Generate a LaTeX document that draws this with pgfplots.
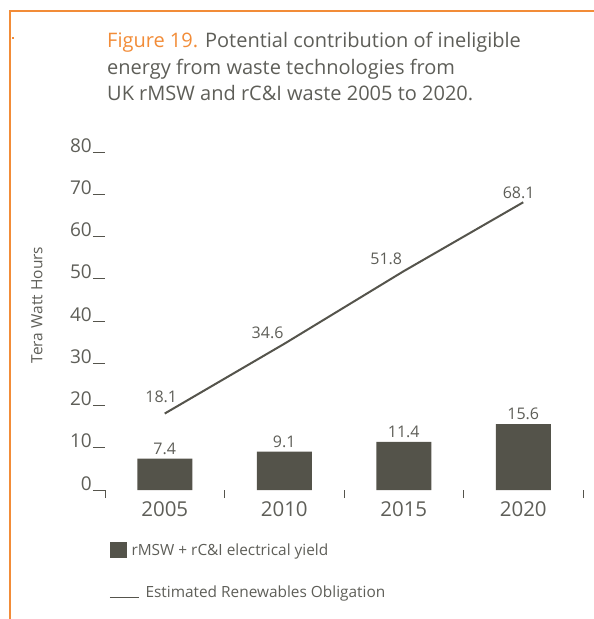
\documentclass[border=0pt]{standalone}
\usepackage{fontspec}
\setmainfont{Open Sans}
\usepackage{pgfplots}
\pgfplotsset{compat=1.18}
\definecolor{barc}{HTML}{54534A}
\definecolor{linec}{HTML}{55544C}
\definecolor{txt}{HTML}{5E5E58}
\definecolor{org}{HTML}{F28C38}
\begin{document}
\begin{tikzpicture}[x=1pt,y=1pt]
\useasboundingbox (0,0) rectangle (594,619);
\draw[org, line width=1.5pt] (594,608) -- (10,608) -- (10,0);
\fill[org] (11.7,580.3) rectangle (13.7,582.3);
\node[anchor=base west, align=left, font=\fontsize{20}{26.5}\selectfont, text=txt, inner sep=0pt] at (107,518) {\textcolor{org}{Figure 19.} Potential contribution of ineligible\\energy from waste technologies from\\UK rMSW and rC\&I waste 2005 to 2020.};
\node[rotate=90, font=\fontsize{15.5}{17}\selectfont, text=txt] at (37,314) {Tera Watt Hours};
\begin{axis}[
  at={(105pt,129pt)}, anchor=south west, scale only axis, width=478pt, height=338pt,
  xmin=-0.5, xmax=3.5, ymin=0, ymax=80,
  axis line style={draw=none},
  xtick={0,1,2,3}, xticklabels={2005,2010,2015,2020},
  minor xtick={-0.5,0.5,1.5,2.5,3.5},
  ytick={0,10,...,80},
  tick pos=left,
  tick align=outside,
  major tick length=12pt, minor tick length=8pt,
  major x tick style={draw=none},
  tick style={linec, line width=1pt},
  /pgf/number format/assume math mode=true,
  yticklabel style={anchor=base east, font=\fontsize{19}{21}\selectfont, text=txt, inner sep=1pt},
  xticklabel style={anchor=north, font=\fontsize{20.5}{22}\selectfont, text=txt, yshift=4pt},
  legend style={at={(0.008,-0.152)}, anchor=north west, draw=none, fill=none,
    font=\fontsize{15.4}{17}\selectfont, text=txt, row sep=25pt, inner sep=0pt},
  legend cell align=left,
  clip=false,
]
\addplot[ybar, bar width=55pt, fill=barc, draw=none,
  nodes near coords, nodes near coords style={font=\fontsize{16}{18}\selectfont, text=txt, anchor=base, yshift=4.5pt, inner sep=0pt},
  /pgf/number format/fixed, /pgf/number format/precision=1, /pgf/number format/fixed zerofill,
  legend image code/.code={\fill[barc] (0pt,-8pt) rectangle (17pt,8pt);}]
  coordinates {(0,7.4) (1,9.1) (2,11.4) (3,15.6)};
\addlegendentry{\hspace*{-10pt}rMSW + rC\&I electrical yield}
\addplot[linec, line width=2pt, mark=none,
  visualization depends on={\thisrow{dx} \as \dx},
  visualization depends on={\thisrow{dy} \as \dy},
  nodes near coords, nodes near coords style={font=\fontsize{16}{18}\selectfont, text=txt, anchor=center, xshift=\dx pt, yshift=\dy pt},
  /pgf/number format/fixed, /pgf/number format/precision=1, /pgf/number format/fixed zerofill,
  legend image code/.code={\draw[linec, line width=1.5pt] (0pt,-5pt) -- (29pt,-5pt);}]
  table {
x y dx dy
0 18.1 -3.5 16.7
1 34.6 -16.7 11
2 51.8 -17.5 12.7
3 68.1 -4.6 9.5
};
\addlegendentry{\hspace*{4pt}Estimated Renewables Obligation}
\end{axis}
\end{tikzpicture}
\end{document}
